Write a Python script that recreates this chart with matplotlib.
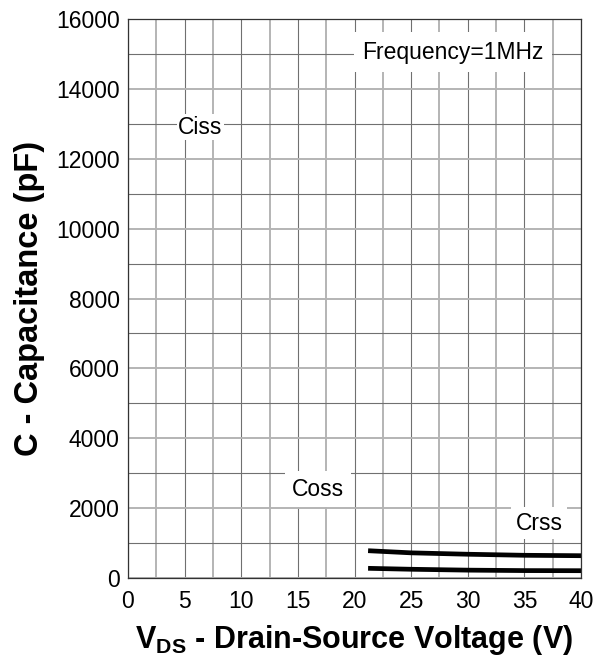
import matplotlib
matplotlib.use("Agg")
import matplotlib.pyplot as plt
from matplotlib.ticker import MultipleLocator

plt.rcParams['font.family'] = ['Liberation Sans', 'DejaVu Sans']
plt.rcParams['mathtext.fontset'] = 'custom'
plt.rcParams['mathtext.rm'] = 'Liberation Sans'
plt.rcParams['mathtext.bf'] = 'Liberation Sans:bold'

# Data
vds_upper = [21.2, 25, 30, 35, 40]
cap_upper = [781, 720, 680, 650, 638]
vds_lower = [21.2, 25, 30, 35, 40]
cap_lower = [277, 250, 225, 212, 209]

x_ticks = [0, 5, 10, 15, 20, 25, 30, 35, 40]
y_ticks = [0, 2000, 4000, 6000, 8000, 10000, 12000, 14000, 16000]

fig = plt.figure(figsize=(5.95, 6.68), dpi=100)
ax = fig.add_axes([128/595, 1 - 578/668, (581-128)/595, (578-19)/668])

ax.set_xlim(0, 40)
ax.set_ylim(0, 16000)
ax.set_xticks(x_ticks)
ax.set_yticks(y_ticks)
ax.xaxis.set_minor_locator(MultipleLocator(2.5))
ax.yaxis.set_minor_locator(MultipleLocator(1000))

# grid: x majors dark thin, x minors light thick; y majors light thick, y minors dark thin
ax.grid(True, which='major', axis='x', color='#707070', lw=0.8)
ax.grid(True, which='minor', axis='x', color='#b4b4b4', lw=1.4)
ax.grid(True, which='major', axis='y', color='#b4b4b4', lw=1.4)
ax.grid(True, which='minor', axis='y', color='#707070', lw=0.8)
ax.set_axisbelow(True)

ax.tick_params(which='both', length=0, labelsize=16.5)
ax.tick_params(axis='x', pad=9)
ax.tick_params(axis='y', pad=6)
for s in ax.spines.values():
    s.set_color('#333333')
    s.set_linewidth(0.9)

ax.plot(vds_upper, cap_upper, color='black', lw=3.4, solid_capstyle='butt')
ax.plot(vds_lower, cap_lower, color='black', lw=3.4, solid_capstyle='butt')

ax.text(6.4, 12900, 'Ciss', fontsize=16.5, ha='center', va='center', bbox=dict(facecolor='white', edgecolor='none', pad=1))
ax.text(28.7, 15050, 'Frequency=1MHz', fontsize=16.5, ha='center', va='center', bbox=dict(facecolor='white', edgecolor='none', pad=6))
ax.text(16.8, 2545, 'Coss', fontsize=16.5, ha='center', va='center', bbox=dict(facecolor='white', edgecolor='none', pad=5))
ax.text(36.3, 1573, 'Crss', fontsize=16.5, ha='center', va='center', bbox=dict(facecolor='white', edgecolor='none', pad=3))

ax.set_xlabel(r'$\mathbf{V_{DS}}$ - Drain-Source Voltage (V)', fontsize=22, fontweight='bold', labelpad=7)
ax.set_ylabel('C - Capacitance (pF)', fontsize=23.5, fontweight='bold', labelpad=8)

fig.savefig('out.png', dpi=100)
